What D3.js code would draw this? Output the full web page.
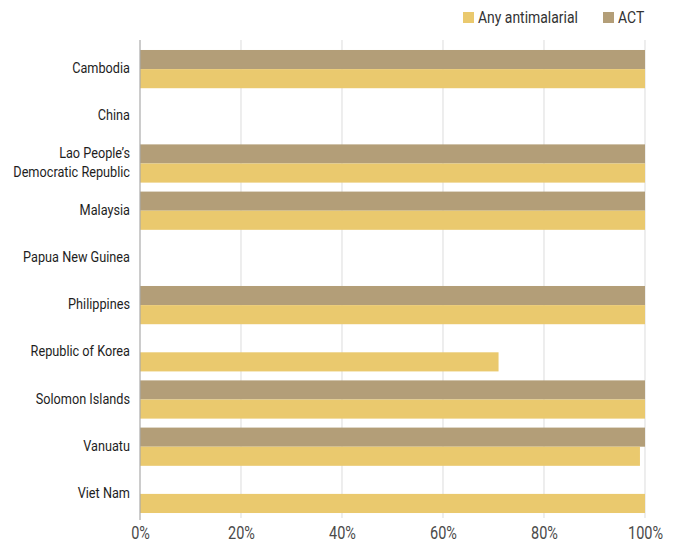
<!DOCTYPE html>
<html><head><meta charset="utf-8">
<script src="https://cdn.jsdelivr.net/npm/d3@7"></script>
<style>
body{margin:0;background:#fff;}
text{font-family:Roboto,"Open Sans",sans-serif;}
</style></head>
<body><svg id="c" width="678" height="544"></svg>
<script>
const categories = ["Cambodia","China","Lao People’s\nDemocratic Republic","Malaysia","Papua New Guinea","Philippines","Republic of Korea","Solomon Islands","Vanuatu","Viet Nam"];
const anyAntimalarial = [100,null,100,100,null,100,71,100,99,100];
const act = [100,null,100,100,null,100,null,100,100,null];
const seriesNames = ["Any antimalarial","ACT"];
const tickValues = [0,20,40,60,80,100];

const svg = d3.select("#c");
const x = d3.scaleLinear().domain([0,100]).range([140,645]);
const y = d3.scaleBand().domain(categories).range([45.5,517.5]).paddingInner(0.19).paddingOuter(0.095);
const sub = d3.scaleBand().domain(["ACT","Any"]).range([0,y.bandwidth()]);
const colors = {ACT:"#b39e78", Any:"#eac96e"};

// helper: horizontal condensation factor to mimic a condensed typeface
function condenseFactor(sample, size, target){
  const t = svg.append("text").attr("font-size",size).text(sample);
  const w = t.node().getComputedTextLength();
  t.remove();
  return target / w;
}

// grid
svg.append("g").selectAll("line").data(tickValues.slice(1)).join("line")
  .attr("x1",d=>x(d)).attr("x2",d=>x(d)).attr("y1",40).attr("y2",518)
  .attr("stroke","#e2e2e2").attr("stroke-width",1.2);

// bars
const g = svg.append("g");
categories.forEach((c,i)=>{
  if(act[i]!=null) g.append("rect").attr("x",x(0)).attr("y",y(c)+sub("ACT"))
    .attr("width",x(act[i])-x(0)).attr("height",sub.bandwidth()).attr("fill",colors.ACT);
  if(anyAntimalarial[i]!=null) g.append("rect").attr("x",x(0)).attr("y",y(c)+sub("Any"))
    .attr("width",x(anyAntimalarial[i])-x(0)).attr("height",sub.bandwidth()).attr("fill",colors.Any);
});

// y axis line
svg.append("line").attr("x1",x(0)).attr("x2",x(0)).attr("y1",40).attr("y2",520)
  .attr("stroke","#aaa").attr("stroke-width",1.2);

// x axis labels
const tickSize = 17.5;
const fT = condenseFactor("100%", tickSize, 35);
const xAxis = d3.axisBottom(x).tickValues(tickValues).tickFormat(d=>d+"%").tickSize(0).tickPadding(0);
const xa = svg.append("g").attr("transform","translate(0,533)").call(xAxis);
xa.select(".domain").remove();
xa.selectAll(".tick text").attr("font-size",tickSize).attr("fill","#4a4a4a").attr("y",0).attr("dy","0.36em")
  .attr("transform",`scale(${fT},1)`)
  .style("font-family","Roboto,sans-serif");

// category labels
const labSize = 15.5;
const fL = condenseFactor("Papua New Guinea", labSize, 107);
const lab = svg.append("g");
categories.forEach(c=>{
  const lines = c.split("\n");
  const cy = y(c)+y.bandwidth()/2 - 1.5;
  lines.forEach((l,j)=>{
    const ly = cy + (j-(lines.length-1)/2)*18.5;
    lab.append("text").attr("text-anchor","end")
      .attr("transform",`translate(130,${ly}) scale(${fL},1)`)
      .attr("dy","0.36em")
      .attr("font-size",labSize).attr("fill","#1e1e1e").text(l);
  });
});

// legend
const legSize = 17;
const fG = condenseFactor("Any antimalarial", legSize, 100);
const leg = svg.append("g");
const legItems = [{name:seriesNames[0],color:colors.Any,x:463},{name:seriesNames[1],color:colors.ACT,x:603}];
legItems.forEach(d=>{
  leg.append("rect").attr("x",d.x).attr("y",12).attr("width",11).attr("height",11).attr("fill",d.color);
  leg.append("text").attr("transform",`translate(${d.x+15},17) scale(${fG},1)`)
    .attr("dy","0.36em").attr("font-size",legSize)
    .attr("fill","#333").text(d.name);
});
</script></body></html>
